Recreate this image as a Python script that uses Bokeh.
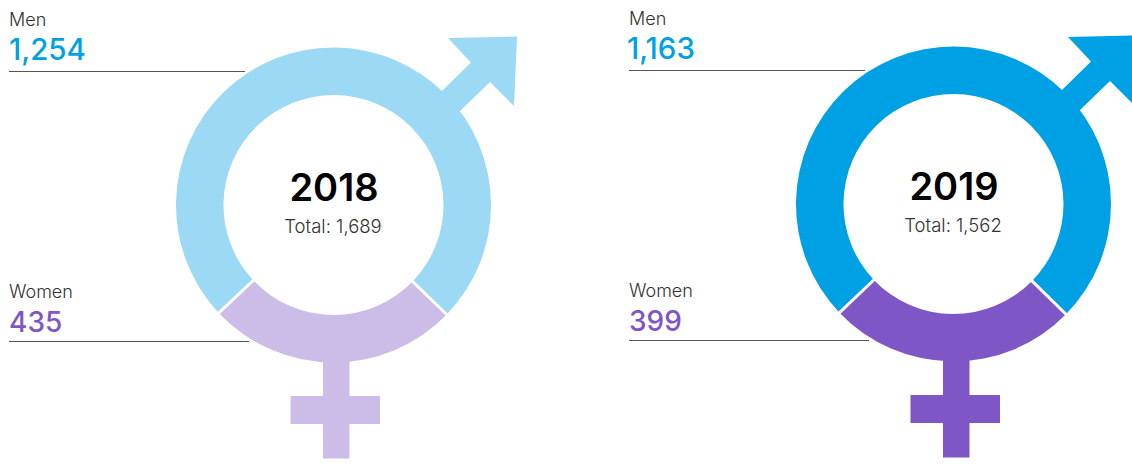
import math
from bokeh.plotting import figure
from bokeh.embed import file_html
from bokeh.resources import INLINE
from bokeh.models import Range1d
from bokeh.core.properties import value

years = ["2018", "2019"]
men = [1254, 1163]
women = [435, 399]
totals = [1689, 1562]
men_colors = ["#9BD9F5", "#00A0E4"]
women_colors = ["#CCBCE8", "#7F56C6"]
label_men = "#00A0E4"
label_women = "#7F56C6"

W, H = 1132, 475
p = figure(width=W, height=H, output_backend="svg", toolbar_location=None,
           x_range=Range1d(0, W), y_range=Range1d(0, H), min_border=0,
           outline_line_color=None, x_axis_location=None, y_axis_location=None)
p.grid.visible = False
p.background_fill_color = None
p.border_fill_color = None

def X(px): return px - 0.5
def Y(py): return H - py + 0.5

ARROW = [(448, 38), (517, 36.5), (514, 106), (490, 82), (460, 111), (452, 119), (434, 99), (442, 91), (471, 62.5)]
CROSS = [(323, 355), (349.5, 355), (349.5, 396), (380, 396), (380, 424), (349.5, 424), (349.5, 458.5),
         (323, 458.5), (323, 424), (290.5, 424), (290.5, 396), (323, 396)]

for i, yr in enumerate(years):
    dx, dy = 620 * i, -1 * i
    cx, cy = X(333.5 + dx), Y(205 + dy)
    half = math.pi * women[i] / totals[i]
    off = math.radians(-0.4)
    bottom = -math.pi / 2 + off
    p.patch([X(a + dx) for a, b in ARROW], [Y(b + dy) for a, b in ARROW], color=men_colors[i], line_width=0)
    p.patch([X(a + dx) for a, b in CROSS], [Y(b + dy) for a, b in CROSS], color=women_colors[i], line_width=0)
    p.annular_wedge(x=[cx], y=[cy], inner_radius=110, outer_radius=157.5,
                    start_angle=bottom + half, end_angle=bottom - half + 2 * math.pi,
                    color=men_colors[i], line_width=0)
    p.annular_wedge(x=[cx], y=[cy], inner_radius=110, outer_radius=157.5,
                    start_angle=bottom - half, end_angle=bottom + half,
                    color=women_colors[i], line_width=0)
    for a in (bottom - half, bottom + half):
        p.segment(x0=[cx + 108 * math.cos(a)], y0=[cy + 108 * math.sin(a)],
                  x1=[cx + 160 * math.cos(a)], y1=[cy + 160 * math.sin(a)],
                  line_color="white", line_width=3)
    p.segment(x0=[X(9 + dx)], y0=[Y(71.5 + dy)], x1=[X(245 + dx)], y1=[Y(71.5 + dy)], line_color="#555555", line_width=1)
    p.segment(x0=[X(9 + dx)], y0=[Y(341.5 + dy)], x1=[X(249 + dx)], y1=[Y(341.5 + dy)], line_color="#555555", line_width=1)

    def T(x, y, s, size, font, color, align="left"):
        p.text(x=[X(x + dx)], y=[Y(y + dy)], text=[s], text_font=value(font), text_font_size=size,
               text_color=color, text_align=align, text_baseline="middle")
    T(9, 19, "Men", "18px", "Inter Light", "#333333")
    T(9 - 2 * i, 49, f"{men[i]:,}", "29.5px", "Inter Medium", label_men)
    T(9, 291, "Women", "18px", "Inter Light", "#333333")
    T(9, 321, f"{women[i]:,}", "28px", "Inter Medium", label_women)
    T(334, 187, yr, "38px", "Inter SemiBold", "#000000", "center")
    T(333, 225.5, f"Total: {totals[i]:,}", "18.5px", "Inter Light", "#333333", "center")

open("out.html", "w").write(file_html(p, INLINE))
